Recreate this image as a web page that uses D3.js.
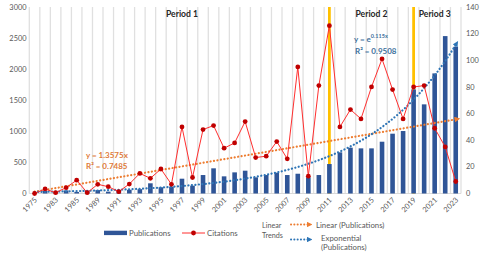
<!DOCTYPE html>
<html><head><meta charset="utf-8">
<script src="https://cdn.jsdelivr.net/npm/d3@7"></script>
<style>
html,body{margin:0;padding:0;background:#fff;}
svg{display:block;font-family:Lato,"Open Sans",sans-serif;}
</style></head>
<body>
<svg id="c" width="480" height="253"></svg>
<script>
const years = ["1975","1981","1983","1984","1985","1987","1989","1990","1991","1992","1993","1994","1995","1996","1997","1998","1999","2000","2001","2002","2003","2004","2005","2006","2007","2008","2009","2010","2011","2012","2013","2014","2015","2016","2017","2018","2019","2020","2021","2022","2023"];
const publications = [5,40,15,50,25,45,55,30,55,60,70,164,100,110,238,126,297,405,276,340,367,260,297,335,297,318,260,297,474,662,737,726,726,833,962,1005,1675,1434,1932,2532,2360];
const citations = [0,3.4,0.6,4.4,10,0.6,6.9,5.1,1.4,7.1,15.1,11.4,18.4,6.9,50,12,48,51,34,38,54,27,28,39,26,95,13,81,126,50,63,56,80,101,78,56,80,81,49,35,9];
const leftTicks = [0,500,1000,1500,2000,2500,3000];
const rightTicks = [0,20,40,60,80,100,120,140];
const periodMarks = ["2011","2019"];
const periods = [{label:"Period 1", year:"1997"},{label:"Period 2", year:"2015"},{label:"Period 3", year:"2021"}];
const linearSlope = 1.3575, linearR2 = "0.7485";
const expRate = 0.115, expR2 = "0.9508";

const svg = d3.select("#c");
const top_ = 7, bottom = 193.5, left = 29.3, right = 461;
const x = d3.scaleBand().domain(years).range([left, right]).padding(0);
const bw = x.bandwidth();
const cx = d => x(d) + bw/2;
const yL = d3.scaleLinear().domain([0,3000]).range([bottom, top_]);
const yR = d3.scaleLinear().domain([0,140]).range([bottom, top_]);
const xt = d3.scaleLinear().domain([1, years.length]).range([cx(years[0]), cx(years[years.length-1])]);

const defs = svg.append("defs");
function arrow(id, color){
  defs.append("marker").attr("id",id).attr("viewBox","0 0 10 10").attr("refX",2).attr("refY",5)
    .attr("markerWidth",5.5).attr("markerHeight",5.5).attr("markerUnits","userSpaceOnUse").attr("orient","auto")
    .append("path").attr("d","M0,0 L10,5 L0,10 z").attr("fill",color);
}
const orange = "#ED7D31", blueT = "#2E75B6", barC = "#2F5597";
arrow("ao", orange); arrow("ab", blueT);

// vertical gridlines at band boundaries
const bounds = years.map(d => x(d)).concat([right]);
svg.append("g").selectAll("line").data(bounds).join("line")
  .attr("x1", d=>d).attr("x2", d=>d).attr("y1", top_).attr("y2", bottom)
  .attr("stroke", "#E0E0E0").attr("stroke-width", 1.3);
svg.append("line").attr("x1",left).attr("x2",right).attr("y1",bottom).attr("y2",bottom).attr("stroke","#D9D9D9").attr("stroke-width",1);

// period marks
svg.append("g").selectAll("line").data(periodMarks).join("line")
  .attr("x1", d=>cx(d)).attr("x2", d=>cx(d)).attr("y1", top_).attr("y2", bottom)
  .attr("stroke", "#FFC000").attr("stroke-width", 2.8);

// bars
const barW = 4.6;
svg.append("g").selectAll("rect").data(publications).join("rect")
  .attr("x", (d,i)=>cx(years[i]) - barW/2).attr("width", barW)
  .attr("y", d=>yL(d)).attr("height", d=>bottom - yL(d)).attr("fill", barC);

// trendlines
const ts = d3.range(1, years.length + 0.001, 0.25);
const lineT = d3.line().x(d=>d[0]).y(d=>d[1]);
svg.append("path").attr("d", lineT(ts.map(t=>[xt(t), yR(linearSlope*t)])))
  .attr("fill","none").attr("stroke",orange).attr("stroke-width",2.2)
  .attr("stroke-dasharray","0.1 3.4").attr("stroke-linecap","round").attr("marker-end","url(#ao)");
svg.append("path").attr("d", lineT(ts.map(t=>[xt(t), yR(Math.exp(expRate*t))])))
  .attr("fill","none").attr("stroke",blueT).attr("stroke-width",2.2)
  .attr("stroke-dasharray","0.1 3.4").attr("stroke-linecap","round").attr("marker-end","url(#ab)");

// citations line
svg.append("path").attr("d", d3.line().x((d,i)=>cx(years[i])).y(d=>yR(d))(citations))
  .attr("fill","none").attr("stroke","#FF2F2F").attr("stroke-width",1);
svg.append("g").selectAll("circle").data(citations).join("circle")
  .attr("cx",(d,i)=>cx(years[i])).attr("cy",d=>yR(d)).attr("r",2.4).attr("fill","#C00000");

// axes labels
const tickC = "#595959", fs = 7.4;
svg.append("g").selectAll("text").data(leftTicks).join("text")
  .attr("x", 26.5).attr("y", d=>yL(d)+2.6).attr("text-anchor","end")
  .attr("font-size", fs).attr("fill", tickC).text(d=>d);
svg.append("g").selectAll("text").data(rightTicks).join("text")
  .attr("x", 466).attr("y", d=>yR(d)+2.6).attr("text-anchor","start")
  .attr("font-size", fs).attr("fill", tickC).text(d=>d);
svg.append("g").selectAll("text").data(years.filter((d,i)=>i%2===0)).join("text")
  .attr("transform", d=>`translate(${cx(d)+3},${200.5}) rotate(-45)`).attr("text-anchor","end")
  .attr("font-size", fs).attr("fill", tickC).text(d=>d);

// period labels
svg.append("g").selectAll("text").data(periods).join("text")
  .attr("x", d=>cx(d.year)).attr("y", 16.5).attr("text-anchor","middle")
  .attr("font-size", 8.6).attr("font-weight","bold").attr("fill","#262626").text(d=>d.label);

// equations
const eq1 = svg.append("g").attr("font-size",8).attr("font-weight","bold").attr("fill","#E07B39");
eq1.append("text").attr("x",86).attr("y",158).text("y = " + linearSlope + "x");
eq1.append("text").attr("x",86).attr("y",168.5).text("R² = " + linearR2);
const eq2 = svg.append("g").attr("font-size",8).attr("font-weight","bold").attr("fill","#41719C");
const t2 = eq2.append("text").attr("x",354).attr("y",41.5);
t2.append("tspan").text("y = e");
t2.append("tspan").attr("font-size",5.5).attr("dy",-3.5).text(expRate + "x");
eq2.append("text").attr("x",355).attr("y",53.5).text("R² = " + expR2);

// legend
const lg = svg.append("g").attr("font-size",7.8).attr("fill",tickC);
lg.append("rect").attr("x",104).attr("y",230.7).attr("width",23).attr("height",4.4).attr("fill",barC);
lg.append("text").attr("x",129).attr("y",236).text("Publications");
lg.append("line").attr("x1",182).attr("x2",205).attr("y1",233).attr("y2",233).attr("stroke","#FF2F2F").attr("stroke-width",1);
lg.append("circle").attr("cx",193.5).attr("cy",233).attr("r",2.4).attr("fill","#C00000");
lg.append("text").attr("x",207).attr("y",236).text("Citations");
lg.append("text").attr("x",262).attr("y",228).attr("font-size",7.2).text("Linear");
lg.append("text").attr("x",262).attr("y",238).attr("font-size",7.2).text("Trends");
lg.append("line").attr("x1",291).attr("x2",308).attr("y1",224.5).attr("y2",224.5)
  .attr("stroke",orange).attr("stroke-width",2).attr("stroke-dasharray","0.1 3.2").attr("stroke-linecap","round").attr("marker-end","url(#ao)");
lg.append("text").attr("x",316).attr("y",227.5).text("Linear (Publications)");
lg.append("line").attr("x1",291).attr("x2",308).attr("y1",239.5).attr("y2",239.5)
  .attr("stroke",blueT).attr("stroke-width",2).attr("stroke-dasharray","0.1 3.2").attr("stroke-linecap","round").attr("marker-end","url(#ab)");
lg.append("text").attr("x",321).attr("y",241).text("Exponential");
lg.append("text").attr("x",321).attr("y",250).text("(Publications)");
</script>
</body></html>
